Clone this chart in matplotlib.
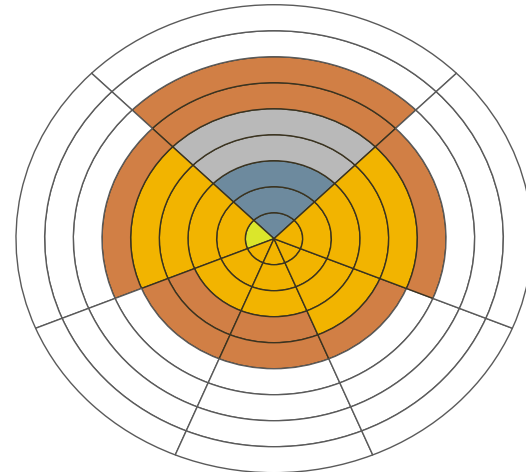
import matplotlib.pyplot as plt
import numpy as np

# 扇区角度（度），从东向逆时针
sector_start = [45, 135, 202.5, 247.5, 292.5, 337.5]
sector_end = [135, 202.5, 247.5, 292.5, 337.5, 405]

# 每个扇区从内到外每一环的类别
sector_levels = [
    ['B', 'B', 'B', 'G', 'G', 'O', 'O', 'W', 'W'],   # 上
    ['L', 'Y', 'Y', 'Y', 'Y', 'O', 'W', 'W', 'W'],   # 左
    ['Y', 'Y', 'Y', 'O', 'O', 'W', 'W', 'W', 'W'],   # 左下
    ['Y', 'Y', 'Y', 'O', 'O', 'W', 'W', 'W', 'W'],   # 下
    ['Y', 'Y', 'Y', 'Y', 'O', 'W', 'W', 'W', 'W'],   # 右下
    ['Y', 'Y', 'Y', 'Y', 'Y', 'O', 'W', 'W', 'W'],   # 右
]

level_colors = {
    'B': '#6d8a9e',
    'G': '#b9b9b9',
    'O': '#d17f45',
    'Y': '#f2b400',
    'L': '#dbe62b',
    'W': '#ffffff',
}

fig = plt.figure(figsize=(5.26, 4.72), dpi=100)
ax = fig.add_axes([0.0304, -0.0015, 0.981, 0.9915], projection='polar')
ax.set_aspect('auto')

for start, end, levels in zip(sector_start, sector_end, sector_levels):
    t0 = np.deg2rad(start)
    w = np.deg2rad(end - start)
    for ring, lv in enumerate(levels):
        edge = '#5a5a5a' if lv == 'W' else '#3a3320'
        ax.bar(t0, 1, width=w, bottom=ring, align='edge',
               color=level_colors[lv], edgecolor=edge, linewidth=1.0,
               clip_on=False)

ax.set_ylim(0, 9)
ax.set_xticks([])
ax.set_yticks([])
ax.grid(False)
ax.spines['polar'].set_visible(False)

plt.savefig('out.png', dpi=100)
